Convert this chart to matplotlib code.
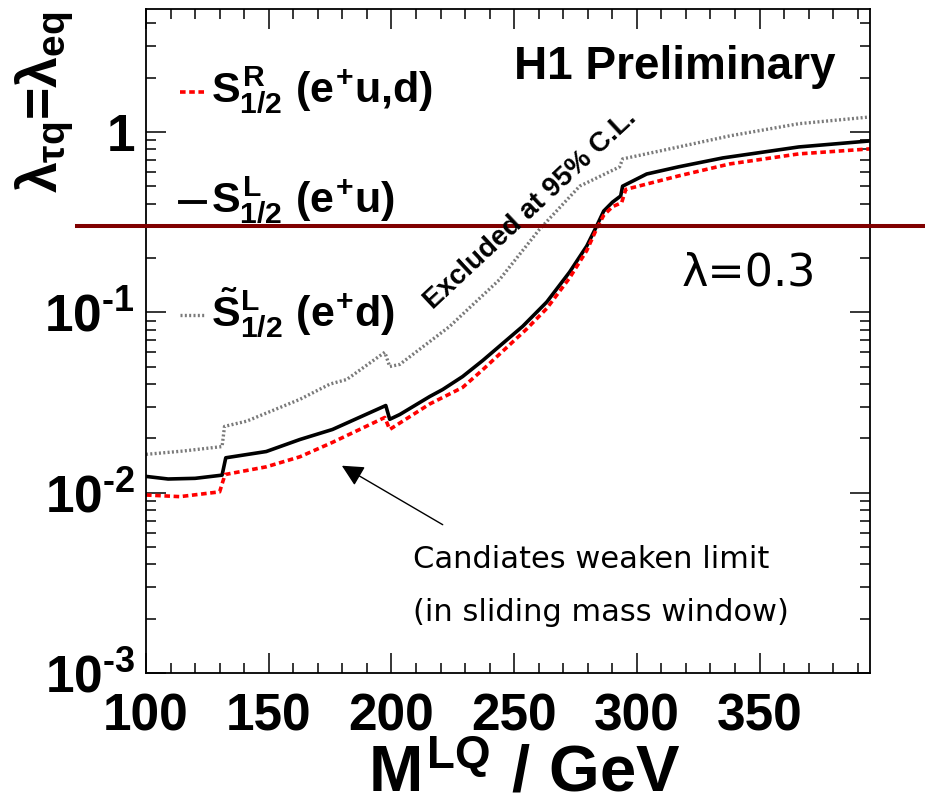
import matplotlib
matplotlib.use('Agg')
import matplotlib.pyplot as plt
import matplotlib.transforms as mtransforms
from matplotlib.lines import Line2D
from matplotlib.ticker import FixedLocator, FixedFormatter, MultipleLocator

plt.rcParams['font.family'] = ['Liberation Sans', 'DejaVu Sans']
plt.rcParams['font.weight'] = 'bold'
plt.rcParams['mathtext.fontset'] = 'custom'
plt.rcParams['mathtext.rm'] = 'Liberation Sans:bold'
plt.rcParams['mathtext.it'] = 'Liberation Sans:bold'
plt.rcParams['mathtext.bf'] = 'Liberation Sans:bold'
plt.rcParams['mathtext.sf'] = 'Liberation Sans:bold'

# limits on the coupling vs leptoquark mass
m_sl = [100, 109, 120, 131, 132.5, 149, 162.7, 176, 197.7, 199.3, 203.4, 215.6, 220.9,
        229, 237.2, 253.5, 263.3, 272.6, 279.6, 283.6, 286.5, 290.1, 293.4, 294.2,
        304, 317, 335, 366, 395]
lam_sl = [0.0123, 0.0119, 0.0120, 0.0125, 0.0156, 0.0169, 0.0197, 0.0224, 0.0304, 0.0255,
          0.0271, 0.0341, 0.0373, 0.0440, 0.0540, 0.0836, 0.114, 0.167, 0.233, 0.300,
          0.364, 0.408, 0.441, 0.500, 0.584, 0.640, 0.717, 0.825, 0.891]

m_sr = [100, 113.8, 130, 132.2, 149, 162.7, 176, 197.3, 199.3, 215.6, 229, 237.2, 255,
        263.3, 272.6, 279.6, 283.6, 286.5, 290.1, 293.8, 295.5, 317, 337.8, 366, 395]
lam_sr = [0.0097, 0.0095, 0.0101, 0.0126, 0.0139, 0.0158, 0.0190, 0.0261, 0.0224, 0.0310,
          0.0383, 0.0480, 0.0805, 0.105, 0.155, 0.220, 0.290, 0.345, 0.385, 0.405,
          0.480, 0.570, 0.664, 0.755, 0.805]

m_sl_t = [100, 115, 131, 132, 141, 162.7, 175, 181.8, 197.3, 199.3, 203.4, 223.8, 244.1,
          260.4, 276.7, 293, 294.2, 317, 337.8, 366, 395]
lam_sl_t = [0.0163, 0.0170, 0.0180, 0.0233, 0.0249, 0.0329, 0.0400, 0.0424, 0.0600, 0.0500,
            0.0514, 0.0836, 0.152, 0.289, 0.500, 0.640, 0.708, 0.825, 0.950, 1.11, 1.21]

lam_line = 0.3

x_major = [100, 150, 200, 250, 300, 350]
x_labels = ['100', '150', '200', '250', '300', '350']
y_major = [1e-3, 1e-2, 1e-1, 1]
y_labels = [r'$10^{\text{-}3}$', r'$10^{\text{-}2}$', r'$10^{\text{-}1}$', '1']

W, H = 925, 810
fig = plt.figure(figsize=(W / 100, H / 100), dpi=100)
ax = fig.add_axes([146 / W, 1 - 673 / H, 724 / W, 664 / H])


def px(x, y):
    return x / W, 1 - y / H


ax.plot(m_sl_t, lam_sl_t, color='#7a7a7a', lw=2.4, dashes=(0.6, 0.7))
ax.plot(m_sl, lam_sl, color='black', lw=2.6)
ax.plot(m_sr, lam_sr, color='#ff0000', lw=2.6, dashes=(1.55, 1.0))

ax.set_yscale('log')
ax.set_xlim(100, 395)
ax.set_ylim(1e-3, 4.8)

ax.xaxis.set_major_locator(FixedLocator(x_major))
ax.xaxis.set_major_formatter(FixedFormatter(x_labels))
ax.xaxis.set_minor_locator(MultipleLocator(10))
ax.yaxis.set_major_locator(FixedLocator(y_major))
ax.yaxis.set_major_formatter(FixedFormatter(y_labels))
ax.tick_params(which='both', direction='in', top=True, right=True, width=1.1)
ax.tick_params(which='major', length=14.5)
ax.tick_params(which='minor', length=7)
ax.tick_params(axis='x', which='major', labelsize=37, pad=14)
ax.tick_params(axis='y', which='major', labelsize=37, pad=8)
for s in ax.spines.values():
    s.set_linewidth(1.3)

# lambda = 0.3 reference line, running past the frame
tr = mtransforms.blended_transform_factory(fig.transFigure, ax.transData)
fig.add_artist(Line2D([77 / W, 1.0], [lam_line, lam_line], transform=tr,
                      color='#800000', lw=2.9))

ax.set_xlabel(r'$M^{LQ}\ /\ GeV$', fontsize=47)
ax.xaxis.set_label_coords(0.523, -0.106)
fig.text(*px(45, 12), r'$\lambda_{\tau q}$=$\lambda_{eq}$', fontsize=40,
         rotation=90, ha='center', va='top')

fig.text(*px(836, 79), 'H1 Preliminary', fontsize=33, ha='right', va='baseline')

# legend entries
fig.add_artist(Line2D([180 / W, 205 / W], [1 - 92 / H] * 2, color='#ff0000', lw=2.6,
                      dashes=(1.55, 1.0)))
fig.add_artist(Line2D([180 / W, 205 / W], [1 - 202 / H] * 2, color='black', lw=2.8))
fig.add_artist(Line2D([180 / W, 205 / W], [1 - 315 / H] * 2, color='#7a7a7a', lw=2.4,
                      dashes=(0.6, 0.7)))
fig.text(*px(211, 102), r'$S^{R}_{1/2}\ (e^{+}u{,}d)$', fontsize=31, va='baseline')
fig.text(*px(211, 213), r'$S^{L}_{1/2}\ (e^{+}u)$', fontsize=31, va='baseline')
fig.text(*px(211, 326), r'$\tilde{S}^{L}_{1/2}\ (e^{+}d)$', fontsize=31, va='baseline')

fig.text(*px(530, 210), 'Excluded at 95% C.L.', fontsize=20, rotation=43,
         rotation_mode='anchor', ha='center', va='center')
fig.text(*px(682, 285), 'λ=0.3', fontsize=32, family='DejaVu Sans',
         fontweight='normal', va='baseline')
fig.text(*px(413, 568), 'Candiates weaken limit', fontsize=22, family='DejaVu Sans',
         fontweight='normal', va='baseline')
fig.text(*px(413, 621), '(in sliding mass window)', fontsize=22, family='DejaVu Sans',
         fontweight='normal', va='baseline')

ax.annotate('', xy=(179.8, 0.0141), xytext=(220.9, 0.00664),
            arrowprops=dict(arrowstyle='-|>,head_length=0.6,head_width=0.3',
                            mutation_scale=22, lw=1.0, color='black',
                            shrinkA=0, shrinkB=0))

fig.savefig('out.png', dpi=100)
